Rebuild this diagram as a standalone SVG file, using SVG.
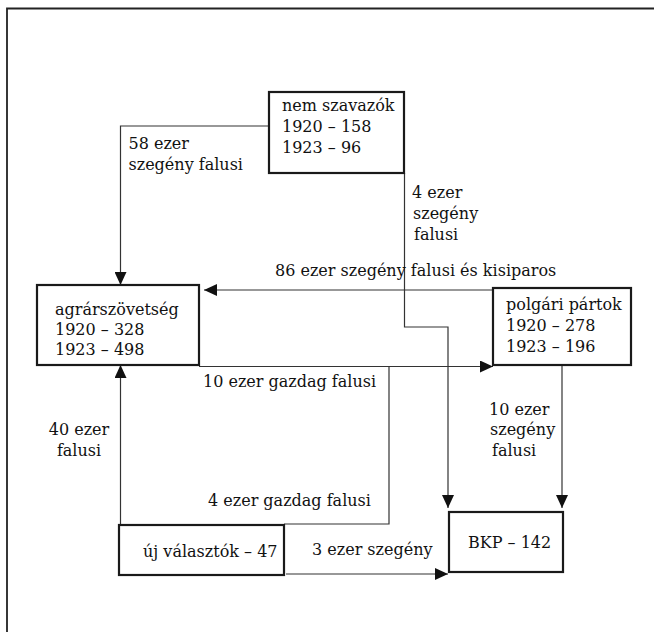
<svg xmlns="http://www.w3.org/2000/svg" width="654" height="632" viewBox="0 0 654 632">
<style>
.box{fill:#fff;stroke:#1a1a1a;stroke-width:2.2}
.t{font-family:"DejaVu Serif","Liberation Serif",serif;font-size:16px;fill:#111}
.c{fill:none;stroke:#333;stroke-width:1.2}
.frame{fill:none;stroke:#222;stroke-width:1.8}
</style>
<defs>
<marker id="ah" markerUnits="userSpaceOnUse" markerWidth="13" markerHeight="12" refX="13" refY="6" orient="auto">
<path d="M0,0 L13,6 L0,12 Z" fill="#111"/>
</marker>
</defs>
<rect width="654" height="632" fill="#fff"/>
<path class="frame" d="M7,632 V8.5 H654"/>
<g id="connectors">
<path class="c" d="M269,126 H120.5 V285" marker-end="url(#ah)"/>
<path class="c" d="M404.5,173 V327 H448 V508" marker-end="url(#ah)"/>
<path class="c" d="M493,290 H204" marker-end="url(#ah)"/>
<path class="c" d="M199,366.5 H493" marker-end="url(#ah)"/>
<path class="c" d="M562,366 V508" marker-end="url(#ah)"/>
<path class="c" d="M284,524 H389 V366.5"/>
<path class="c" d="M120.5,525 V365" marker-end="url(#ah)"/>
<path class="c" d="M286,574 H448" marker-end="url(#ah)"/>
<text class="t" x="128.5" y="149">58 ezer</text>
<text class="t" x="128.5" y="170">szegény falusi</text>
<text class="t" x="412" y="198">4 ezer</text>
<text class="t" x="413" y="219">szegény</text>
<text class="t" x="414" y="240">falusi</text>
<text class="t" x="275" y="276">86 ezer szegény falusi és kisiparos</text>
<text class="t" x="203" y="387">10 ezer gazdag falusi</text>
<text class="t" x="79" y="435" text-anchor="middle">40 ezer</text>
<text class="t" x="79" y="456" text-anchor="middle">falusi</text>
<text class="t" x="208" y="506">4 ezer gazdag falusi</text>
<text class="t" x="312" y="555">3 ezer szegény</text>
<text class="t" x="489" y="415">10 ezer</text>
<text class="t" x="490" y="435">szegény</text>
<text class="t" x="492" y="456">falusi</text>
</g>
<g id="nem-szavazok">
<rect class="box" x="269" y="92" width="135" height="81"/>
<text class="t" x="282" y="111">nem szavazók</text>
<text class="t" x="282" y="132">1920 – 158</text>
<text class="t" x="282" y="153">1923 – 96</text>
</g>
<g id="agrarszovetseg">
<rect class="box" x="37" y="285" width="162" height="80"/>
<text class="t" x="55" y="315">agrárszövetség</text>
<text class="t" x="55" y="335">1920 – 328</text>
<text class="t" x="55" y="355">1923 – 498</text>
</g>
<g id="polgari-partok">
<rect class="box" x="493" y="288" width="138" height="77"/>
<text class="t" x="506" y="310">polgári pártok</text>
<text class="t" x="506" y="331">1920 – 278</text>
<text class="t" x="506" y="352">1923 – 196</text>
</g>
<g id="uj-valasztok">
<rect class="box" x="119" y="525" width="165" height="50"/>
<text class="t" x="143" y="557">új választók – 47</text>
</g>
<g id="bkp">
<rect class="box" x="449" y="512" width="114" height="60"/>
<text class="t" x="468" y="548">BKP – 142</text>
</g>
</svg>
